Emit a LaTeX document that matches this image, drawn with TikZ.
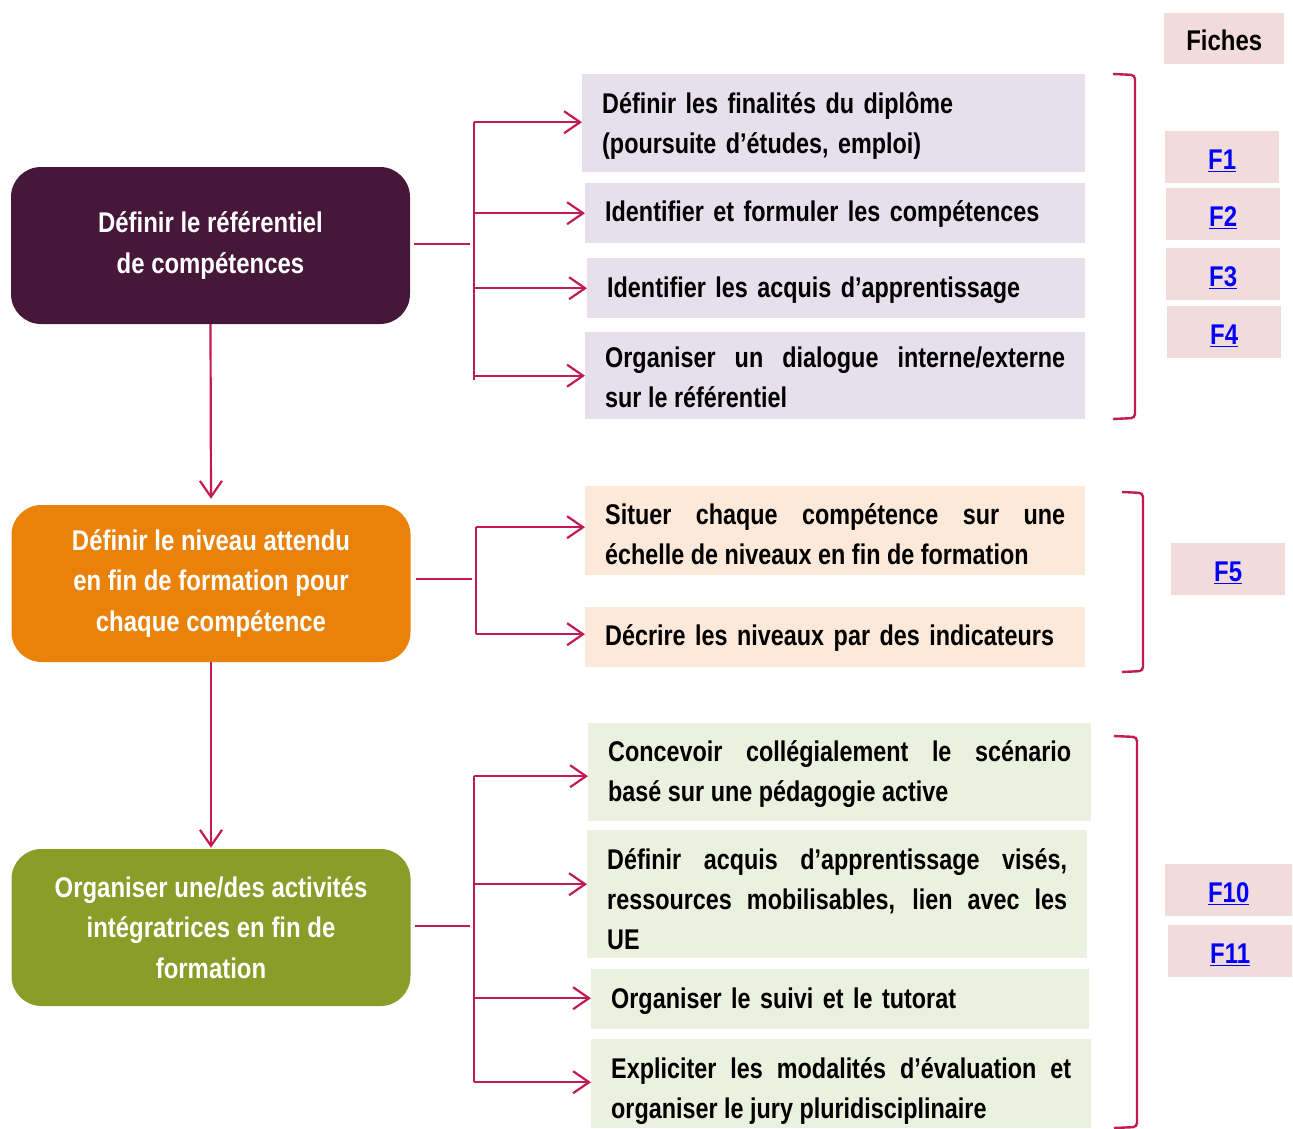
\documentclass[tikz,border=0pt]{standalone}
\usepackage{fontspec}
\setmainfont{Liberation Sans}[FakeStretch=0.84]
\newfontfamily\rfont{Liberation Sans}[FakeStretch=0.82]
\usetikzlibrary{arrows.meta}
\definecolor{cPurple}{HTML}{461739}
\definecolor{cOrange}{HTML}{EA8209}
\definecolor{cGreen}{HTML}{899D28}
\definecolor{cLav}{HTML}{E5E0EC}
\definecolor{cPeach}{HTML}{FDE9D9}
\definecolor{cLgreen}{HTML}{EBF1DE}
\definecolor{cPink}{HTML}{F2DCDB}
\definecolor{cLine}{HTML}{C41A52}
\definecolor{cLink}{HTML}{0000FF}
\newcommand{\topstrut}[1]{\rule{0pt}{#1pt}}
\begin{document}
\begin{tikzpicture}[x=1pt,y=-1pt,
  font=\bfseries\fontsize{28.5}{40}\selectfont,
  mainbox/.style={rounded corners=30pt, minimum width=399pt, minimum height=157pt,
    text=white, align=center, inner sep=0pt},
  rbox/.style={anchor=north west, inner xsep=20pt, inner ysep=0pt,
    font=\rfont\bfseries\fontsize{28.5}{40}\selectfont},
  fiche/.style={fill=cPink, anchor=north west, inner sep=0pt, minimum height=52pt},
  link/.style={fiche, text=cLink},
  conn/.style={draw=cLine, line width=2.2pt},
  arr/.style={conn, -{Straight Barb[length=16pt,width=22pt]}},
  brk/.style={draw=cLine, line width=2.4pt, rounded corners=4pt}]
\useasboundingbox (0,0) rectangle (1293,1129);

% main boxes
\node[mainbox, fill=cPurple] (m1) at (210.5,245.5) {Définir le référentiel\\[1pt]de compétences};
\node[mainbox, fill=cOrange] (m2) at (211,583.5) {Définir le niveau attendu\\en fin de formation pour\\[1pt]chaque compétence};
\node[mainbox, fill=cGreen] (m3) at (211,927.5) {Organiser une/des activités\\intégratrices en fin de\\[1pt]formation};

% vertical arrows
\draw[arr, shorten >=6pt] (m1.south) -- (m2.north);
\draw[arr, shorten >=1pt] (m2.south) -- (m3.north);

% right boxes - section 1
\node[rbox, fill=cLav, text width=463pt, minimum height=98pt, align=left] (a1) at (582,74)
  {\topstrut{26}Définir les finalités du diplôme\\(poursuite d’études, emploi)};
\node[rbox, fill=cLav, text width=460pt, minimum height=60pt, align=left] (a2) at (585,183)
  {\topstrut{23}Identifier et formuler les compétences};
\node[rbox, fill=cLav, text width=458pt, minimum height=60pt, align=left] (a3) at (587,258)
  {\topstrut{25}Identifier les acquis d’apprentissage};
\node[rbox, fill=cLav, text width=460pt, minimum height=87pt, align=justify] (a4) at (585,332)
  {\topstrut{24}Organiser un dialogue interne/externe\linebreak sur le référentiel};

% section 2
\node[rbox, fill=cPeach, text width=460pt, minimum height=89pt, align=justify] (p1) at (585,486)
  {\topstrut{28}Situer chaque compétence sur une\linebreak échelle de niveaux en fin de formation};
\node[rbox, fill=cPeach, text width=460pt, minimum height=60pt, align=left] (p2) at (585,607)
  {\topstrut{23}Décrire les niveaux par des indicateurs};

% section 3
\node[rbox, fill=cLgreen, text width=463pt, minimum height=98pt, align=justify] (g1) at (588,723)
  {\topstrut{24}Concevoir collégialement le scénario\linebreak basé sur une pédagogie active};
\node[rbox, fill=cLgreen, text width=460pt, minimum height=128pt, align=justify] (g2) at (587,830)
  {\topstrut{30}Définir acquis d’apprentissage visés,\linebreak ressources mobilisables, lien avec les\linebreak UE};
\node[rbox, fill=cLgreen, text width=458pt, minimum height=60pt, align=left] (g3) at (591,969)
  {\topstrut{25}Organiser le suivi et le tutorat};
\node[rbox, fill=cLgreen, text width=460pt, minimum height=89pt, align=justify] (g4) at (591,1039)
  {\topstrut{36}Expliciter les modalités d’évaluation et\linebreak organiser le jury pluridisciplinaire};

% junction coordinates
\coordinate (j1) at (474,244);
\coordinate (j2) at (476,579);
\coordinate (j3) at (474,926);

% section 1 connectors
\draw[conn, shorten <=4pt, shorten >=4pt] (m1.east |- j1) -- (j1);
\draw[conn] ([yshift=1pt]j1 |- a1.west) -- ([yshift=-4pt]j1 |- a4.west);
\draw[arr] ([yshift=1pt]j1 |- a1.west) -- ([yshift=1pt]a1.west);
\draw[arr] (j1 |- a2.west) -- (a2.west);
\draw[arr] (j1 |- a3.west) -- (a3.west);
\draw[arr] (j1 |- a4.west) -- (a4.west);

% section 2 connectors
\draw[conn, shorten <=5pt, shorten >=4pt] (m2.east |- j2) -- (j2);
\draw[conn] ([yshift=3.5pt]j2 |- p1.west) -- ([yshift=3pt]j2 |- p2.west);
\draw[arr] ([yshift=3.5pt]j2 |- p1.west) -- ([yshift=3.5pt]p1.west);
\draw[arr] ([yshift=3pt]j2 |- p2.west) -- ([yshift=3pt]p2.west);

% section 3 connectors
\draw[conn, shorten <=4pt, shorten >=4pt] (m3.east |- j3) -- (j3);
\draw[conn] ([yshift=-4pt]j3 |- g1.west) -- ([yshift=1.5pt]j3 |- g4.west);
\draw[arr] ([yshift=-4pt]j3 |- g1.west) -- ([yshift=-4pt]g1.west);
\draw[arr] ([yshift=10pt]j3 |- g2.west) -- ([yshift=10pt]g2.west);
\draw[arr] ([yshift=1pt]j3 |- g3.west) -- ([yshift=1pt]g3.west);
\draw[arr] ([yshift=1.5pt]j3 |- g4.west) -- ([yshift=1.5pt]g4.west);

% brackets
\draw[brk] (1113,74) -- (1135,75) -- (1135,418) -- (1113,419);
\draw[brk] (1122,492) -- (1143,493) -- (1143,671) -- (1122,672);
\draw[brk] (1114,736) -- (1137,737) -- (1137,1127) -- (1114,1128);

% fiches
\node[fiche, minimum width=120pt, minimum height=51pt] (fh) at (1164,13) {\topstrut{24}Fiches};
\node[link, minimum width=114pt] (f1) at (1165,131) {\topstrut{27}\underline{F1}};
\node[link, minimum width=114pt] (f2) at (1166,188) {\topstrut{27}\underline{F2}};
\node[link, minimum width=114pt] (f3) at (1166,248) {\topstrut{27}\underline{F3}};
\node[link, minimum width=114pt] (f4) at (1167,306) {\topstrut{27}\underline{F4}};
\node[link, minimum width=114pt] (f5) at (1171,543) {\topstrut{27}\underline{F5}};
\node[link, minimum width=127pt] (f10) at (1165,864) {\topstrut{27}\underline{F10}};
\node[link, minimum width=124pt] (f11) at (1168,925) {\topstrut{27}\underline{F11}};
\end{tikzpicture}
\end{document}
